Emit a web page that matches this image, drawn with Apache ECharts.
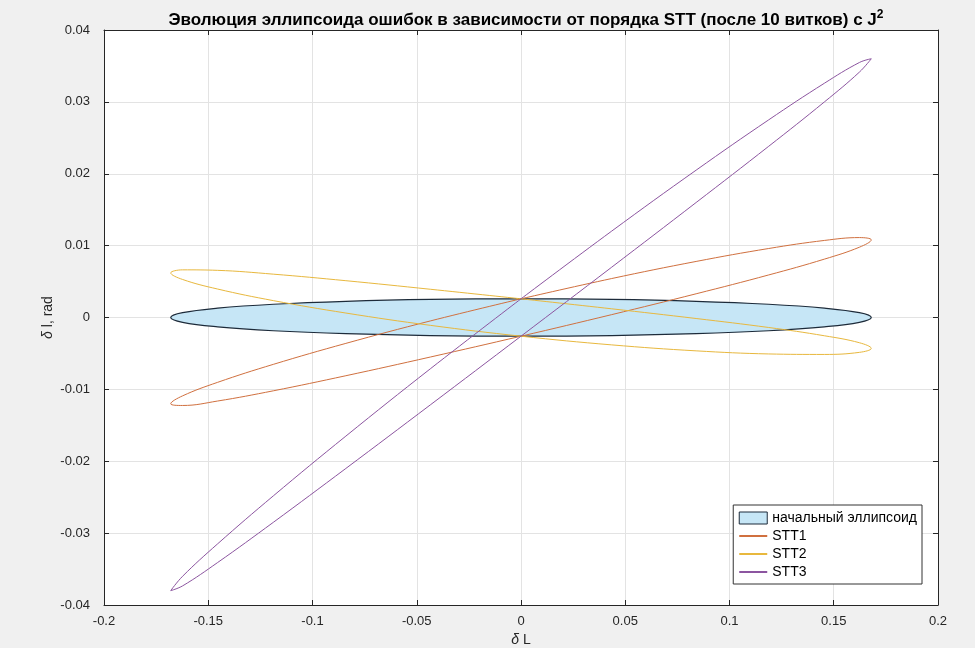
<!DOCTYPE html>
<html>
<head>
<meta charset="utf-8">
<script src="https://cdn.jsdelivr.net/npm/echarts@6/dist/echarts.min.js"></script>
<style>
  html, body { margin: 0; padding: 0; background: #f0f0f0; }
  #chart { width: 975px; height: 648px; }
</style>
</head>
<body>
<div id="chart"></div>
<script>
// contour points, every 15 degrees round each ellipse
var xPts = [0.168, 0.1623, 0.1455, 0.1188, 0.084, 0.0435, 0, -0.0435, -0.084, -0.1188, -0.1455, -0.1623,
  -0.168, -0.1623, -0.1455, -0.1188, -0.084, -0.0435, 0, 0.0435, 0.084, 0.1188, 0.1455, 0.1623];
var yInit = [0, 0.00067, 0.0013, 0.00184, 0.00225, 0.00251, 0.0026, 0.00251, 0.00225, 0.00184, 0.0013, 0.00067,
  0, -0.00067, -0.0013, -0.00184, -0.00225, -0.00251, -0.0026, -0.00251, -0.00225, -0.00184, -0.0013, -0.00067];
var ySTT1 = [0.0108, 0.01112, 0.01072, 0.0096, 0.0078, 0.00542, 0.0026, -0.00048, -0.0036, -0.00652, -0.00902, -0.0109,
  -0.012, -0.01224, -0.01162, -0.0102, -0.0081, -0.0055, -0.0026, 0.0004, 0.0033, 0.00592, 0.00812, 0.00978];
var ySTT2 = [-0.0043, -0.00351, -0.00254, -0.00139, -0.00014, 0.00121, 0.0026, 0.00393, 0.00512, 0.00603, 0.00656, 0.00663,
  0.0062, 0.00529, 0.00396, 0.00235, 0.00062, -0.00109, -0.0026, -0.00381, -0.00464, -0.00507, -0.00514, -0.00485];
var ySTT3 = [0.036, 0.03548, 0.03259, 0.0275, 0.0205, 0.01202, 0.0026, -0.00714, -0.0165, -0.02482, -0.03149, -0.036,
  -0.038, -0.03734, -0.03409, -0.0285, -0.021, -0.01216, -0.0026, 0.007, 0.016, 0.02382, 0.02999, 0.03414];

var seriesNames = ['начальный эллипсоид', 'STT1', 'STT2', 'STT3'];
var lineColors = ['#d0703f', '#e8b83e', '#8c55a0'];

// closed loop, starting at x = 0 where the contour is almost straight
function loop(ys) {
  var out = [];
  for (var k = 0; k <= xPts.length; k++) {
    var i = (k + 6) % xPts.length;
    out.push([xPts[i], ys[i]]);
  }
  return out;
}

function fmt(v) { return String(Math.round(v * 1000) / 1000); }

document.addEventListener('DOMContentLoaded', function () {
  var myChart = echarts.init(document.getElementById('chart'));
  var axisColor = '#262626';
  var font = 'Liberation Sans, Arial, Helvetica, sans-serif';

  var option = {
    backgroundColor: '#f0f0f0',
    animation: false,
    title: {
      text: 'Эволюция эллипсоида ошибок в зависимости от порядка STT (после 10 витков) с J{sup|2}',
      left: 521,
      textAlign: 'center',
      top: 4,
      textStyle: {
        fontFamily: font,
        fontSize: 17,
        fontWeight: 'bold',
        color: '#000',
        rich: {
          sup: { fontFamily: font, fontSize: 12, fontWeight: 'bold', color: '#000', padding: [0, 0, 10, 0] }
        }
      }
    },
    legend: {
      orient: 'vertical',
      right: 53,
      top: 505,
      backgroundColor: '#fff',
      borderColor: '#333',
      borderWidth: 1,
      borderRadius: 0,
      padding: [6, 5, 5, 5],
      itemGap: 4,
      itemWidth: 28,
      itemHeight: 12,
      selectedMode: false,
      textStyle: { fontFamily: font, fontSize: 14, color: '#000' },
      data: [
        { name: seriesNames[0], icon: 'rect', itemStyle: { color: '#c6e6f6', borderColor: '#1d2b3a', borderWidth: 1 } },
        { name: seriesNames[1], itemStyle: { opacity: 0 } },
        { name: seriesNames[2], itemStyle: { opacity: 0 } },
        { name: seriesNames[3], itemStyle: { opacity: 0 } }
      ]
    },
    grid: {
      left: 104, right: 37, top: 30, bottom: 43,
      outerBoundsMode: 'none',
      containLabel: false,
      show: true, backgroundColor: '#fff', borderWidth: 0
    },
    xAxis: [{
      type: 'value', min: -0.2, max: 0.2, interval: 0.05,
      name: '{i|δ} L', nameLocation: 'middle', nameGap: 27,
      nameTextStyle: { fontFamily: font, fontSize: 14, color: axisColor, rich: { i: { fontFamily: font, fontStyle: 'italic', fontSize: 14, color: axisColor } } },
      axisLine: { onZero: false, lineStyle: { color: axisColor, width: 1 } },
      axisTick: { inside: true, length: 5, lineStyle: { color: axisColor } },
      axisLabel: { fontFamily: font, fontSize: 13, color: axisColor, margin: 10, formatter: fmt },
      splitLine: { show: true, lineStyle: { color: '#e3e3e3', width: 1 } }
    }, {
      type: 'value', position: 'top', min: -0.2, max: 0.2, interval: 0.05,
      axisLine: { onZero: false, lineStyle: { color: axisColor, width: 1 } },
      axisTick: { inside: true, length: 5, lineStyle: { color: axisColor } },
      axisLabel: { show: false },
      splitLine: { show: false }
    }],
    yAxis: [{
      type: 'value', min: -0.04, max: 0.04, interval: 0.01,
      name: '{i|δ} l, rad', nameLocation: 'middle', nameGap: 49, nameMoveOverlap: false,
      nameTextStyle: { fontFamily: font, fontSize: 14, color: axisColor, rich: { i: { fontFamily: font, fontStyle: 'italic', fontSize: 14, color: axisColor } } },
      axisLine: { show: true, onZero: false, lineStyle: { color: axisColor, width: 1 } },
      axisTick: { show: true, inside: true, length: 5, lineStyle: { color: axisColor } },
      axisLabel: { fontFamily: font, fontSize: 13, color: axisColor, margin: 14, formatter: fmt },
      splitLine: { show: true, lineStyle: { color: '#e3e3e3', width: 1 } }
    }, {
      type: 'value', position: 'right', min: -0.04, max: 0.04, interval: 0.01,
      axisLine: { show: true, onZero: false, lineStyle: { color: axisColor, width: 1 } },
      axisTick: { show: true, inside: true, length: 5, lineStyle: { color: axisColor } },
      axisLabel: { show: false },
      splitLine: { show: false }
    }],
    series: [
      {
        name: seriesNames[0],
        type: 'custom',
        xAxisIndex: 0, yAxisIndex: 0,
        data: [[0, 0]],
        itemStyle: { color: '#c6e6f6', borderColor: '#1d2b3a' },
        renderItem: function (params, api) {
          var pts = loop(yInit).slice(0, -1).map(function (p) { return api.coord(p); });
          return {
            type: 'polygon',
            shape: { points: pts, smooth: 0.4 },
            style: { fill: '#c6e6f6', stroke: '#1d2b3a', lineWidth: 1.2 }
          };
        }
      },
      { name: seriesNames[1], data: loop(ySTT1) },
      { name: seriesNames[2], data: loop(ySTT2) },
      { name: seriesNames[3], data: loop(ySTT3) }
    ].map(function (s, i) {
      if (s.type) return s;
      s.type = 'line';
      s.xAxisIndex = 0;
      s.yAxisIndex = 0;
      s.smooth = 0.4;
      s.symbol = 'none';
      s.showSymbol = false;
      s.color = lineColors[i - 1];
      s.lineStyle = { color: lineColors[i - 1], width: 1 };
      return s;
    })
  };

  myChart.setOption(option);
});
</script>
</body>
</html>
